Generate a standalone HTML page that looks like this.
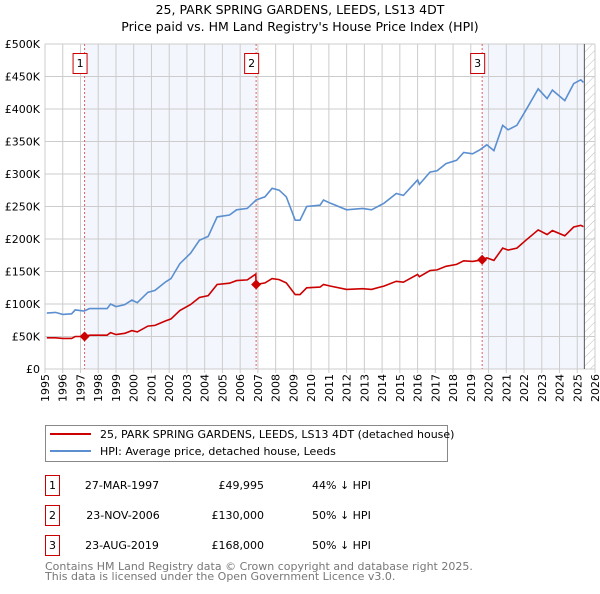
<!DOCTYPE html>
<html><head><meta charset="utf-8"><style>
body{margin:0;background:#fff;font-family:"DejaVu Sans","Liberation Sans",sans-serif;}
svg text{font-family:"DejaVu Sans","Liberation Sans",sans-serif;}
</style></head><body>
<svg id="chart" width="600" height="590" xmlns="http://www.w3.org/2000/svg">
<defs><pattern id="hatch" width="6" height="6" patternUnits="userSpaceOnUse" patternTransform="rotate(45)"><line x1="0" y1="0" x2="0" y2="6" stroke="#bbb" stroke-width="1"/></pattern></defs>
<text x="300" y="14" text-anchor="middle" font-size="12.5">25, PARK SPRING GARDENS, LEEDS, LS13 4DT</text>
<text x="300" y="31" text-anchor="middle" font-size="12.5">Price paid vs. HM Land Registry's House Price Index (HPI)</text>
<g id="plot"></g>
<rect x="45.5" y="425.5" width="402" height="36" fill="#fff" stroke="#888"/>
<line x1="50" y1="434" x2="91" y2="434" stroke="#cc0000" stroke-width="2"/>
<text x="100" y="438" font-size="11">25, PARK SPRING GARDENS, LEEDS, LS13 4DT (detached house)</text>
<line x1="50" y1="451" x2="91" y2="451" stroke="#5b8fd0" stroke-width="2"/>
<text x="100" y="455" font-size="11">HPI: Average price, detached house, Leeds</text>
<g font-size="11">
<rect x="45.5" y="475.5" width="14" height="20" fill="#fff" stroke="#cc0000"/>
<text x="52.5" y="489" text-anchor="middle">1</text>
<text x="122" y="489" text-anchor="middle">27-MAR-1997</text>
<text x="264" y="489" text-anchor="end">£49,995</text>
<text x="312" y="489">44% ↓ HPI</text>
<rect x="45.5" y="505.5" width="14" height="20" fill="#fff" stroke="#cc0000"/>
<text x="52.5" y="519" text-anchor="middle">2</text>
<text x="123" y="519" text-anchor="middle">23-NOV-2006</text>
<text x="264" y="519" text-anchor="end">£130,000</text>
<text x="312" y="519">50% ↓ HPI</text>
<rect x="45.5" y="535.5" width="14" height="20" fill="#fff" stroke="#cc0000"/>
<text x="52.5" y="549" text-anchor="middle">3</text>
<text x="122" y="549" text-anchor="middle">23-AUG-2019</text>
<text x="264" y="549" text-anchor="end">£168,000</text>
<text x="312" y="549">50% ↓ HPI</text>
</g>
<text x="45" y="570" font-size="11" fill="#777">Contains HM Land Registry data © Crown copyright and database right 2025.</text>
<text x="45" y="580" font-size="11" fill="#777">This data is licensed under the Open Government Licence v3.0.</text>
</svg>
<script>
const hpiYears=[1995.1,1995.6,1996.0,1996.5,1996.7,1997.2,1997.5,1998.1,1998.5,1998.7,1999.0,1999.5,1999.9,2000.2,2000.8,2001.2,2001.8,2002.1,2002.6,2003.2,2003.7,2004.2,2004.7,2005.4,2005.8,2006.4,2006.9,2007.4,2007.8,2008.2,2008.6,2009.1,2009.37,2009.75,2010.5,2010.7,2011.1,2012.0,2012.9,2013.4,2014.1,2014.8,2015.2,2016.0,2016.1,2016.7,2017.1,2017.6,2018.2,2018.6,2019.1,2019.5,2019.9,2020.3,2020.8,2021.1,2021.6,2022.1,2022.8,2023.3,2023.6,2024.3,2024.8,2025.2,2025.35];
const hpiValues=[86,87,84,85,91,89,93,93,93,100,96,99,106,102,118,121,134,139,162,178,198,204,234,237,245,247,260,265,278,275,265,229,229,250,252,260,255,245,247,245,255,270,267,291,284,303,305,316,321,333,331,337,345,336,375,368,375,398,431,416,429,413,439,445,441];
const redYears=[1995.1,1995.6,1996.0,1996.5,1996.7,1997.23,1997.5,1998.1,1998.5,1998.7,1999.0,1999.5,1999.9,2000.2,2000.8,2001.2,2001.8,2002.1,2002.6,2003.2,2003.7,2004.2,2004.7,2005.4,2005.8,2006.4,2006.88,2006.9,2007.4,2007.8,2008.2,2008.6,2009.1,2009.37,2009.75,2010.5,2010.7,2011.1,2012.0,2012.9,2013.4,2014.1,2014.8,2015.2,2016.0,2016.1,2016.7,2017.1,2017.6,2018.2,2018.6,2019.1,2019.64,2019.9,2020.3,2020.8,2021.1,2021.6,2022.1,2022.8,2023.3,2023.6,2024.3,2024.8,2025.2,2025.35];
const redValues=[48,48,47,47,50,50,52,52,52,56,53,55,59,57,66,67,74,77,90,99,110,113,130,132,136,137,146,130,132.5,139,137.5,132.5,114.5,114.5,125,126,130,127.5,122.5,123.5,122.5,127.5,135,133.5,145.5,142,151.5,152.5,158,161,166.5,165.5,168,171,167,186,183,186,198,214,207,213,205,218.5,221,219];
const saleYears=[1997.23,2006.9,2019.64];
const salePrices=[49.995,130,168];
const saleLabels=["1","2","3"];
const yTicks=[0,50,100,150,200,250,300,350,400,450,500];
const yTickLabels=["£0","£50K","£100K","£150K","£200K","£250K","£300K","£350K","£400K","£450K","£500K"];
const xTicks=[1995,1996,1997,1998,1999,2000,2001,2002,2003,2004,2005,2006,2007,2008,2009,2010,2011,2012,2013,2014,2015,2016,2017,2018,2019,2020,2021,2022,2023,2024,2025,2026];
const dataEnd=2025.4;

const X0=45,X1=595,Y0=369,Y1=44;
const xs=y=>X0+(y-1995)/(2026-1995)*(X1-X0);
const ys=v=>Y0-(v/500)*(Y0-Y1);
const NS="http://www.w3.org/2000/svg";
const g=document.getElementById('plot');
function mk(t,a){const e=document.createElementNS(NS,t);for(const k in a)e.setAttribute(k,a[k]);g.appendChild(e);return e;}

let e=mk('rect',{x:X0,y:Y1,width:X1-X0,height:Y0-Y1,fill:'#fff'});


e=mk('rect',{x:xs(saleYears[0]),y:Y1,width:xs(saleYears[1])-xs(saleYears[0]),height:Y0-Y1,fill:'#f3f6fd'});


e=mk('rect',{x:xs(saleYears[2]),y:Y1,width:xs(dataEnd)-xs(saleYears[2]),height:Y0-Y1,fill:'#f3f6fd'});


e=mk('rect',{x:xs(dataEnd),y:Y1,width:X1-xs(dataEnd),height:Y0-Y1,fill:'url(#hatch)'});



xTicks.forEach((t,i)=>{
 let l=mk('line',{x1:xs(t),x2:xs(t),y1:Y1,y2:Y0+4,stroke:'#cccccc','stroke-width':1});
 
 
 let tx=mk('text',{x:0,y:0,'font-size':11,'text-anchor':'end',transform:`translate(${xs(t)+4},${Y0+5}) rotate(-90)`});
 tx.textContent=t;
 
 
});
yTicks.forEach((t,i)=>{
 let l=mk('line',{x1:X0,x2:X1,y1:ys(t),y2:ys(t),stroke:'#cccccc','stroke-width':1});
 
 
 let tx=mk('text',{x:40,y:ys(t)+4,'font-size':11,'text-anchor':'end'});
 tx.textContent=yTickLabels[i];
 
 
});
e=mk('line',{x1:xs(dataEnd),x2:xs(dataEnd),y1:Y1,y2:Y0,stroke:'#555','stroke-width':1});



saleYears.forEach((s,i)=>{
 let l=mk('line',{x1:xs(s),x2:xs(s),y1:Y1,y2:Y0,stroke:'#e06060','stroke-width':1,'stroke-dasharray':'2,2'});
 
 
});

function path(xa,va){return xa.map((y,i)=>(i?'L':'M')+xs(y).toFixed(1)+','+ys(va[i]).toFixed(1)).join('');}
e=mk('path',{d:path(hpiYears,hpiValues),fill:'none',stroke:'#5b8fd0','stroke-width':1.6});


e=mk('path',{d:path(redYears,redValues),fill:'none',stroke:'#cc0000','stroke-width':1.6});



saleYears.forEach((s,i)=>{
 const cx=xs(s),cy=ys(salePrices[i]);
 let d=mk('path',{d:`M${cx},${cy-5}L${cx+5},${cy}L${cx},${cy+5}L${cx-5},${cy}Z`,fill:'#cc0000'});
 
 
 let b=mk('rect',{x:cx-11.5,y:53.5,width:14,height:20,fill:'#fff',stroke:'#cc0000'});
 
 
 let t=mk('text',{x:cx-4.5,y:67,'font-size':11,'text-anchor':'middle'});
 t.textContent=saleLabels[i];
 
 
});
</script>
</body></html>
